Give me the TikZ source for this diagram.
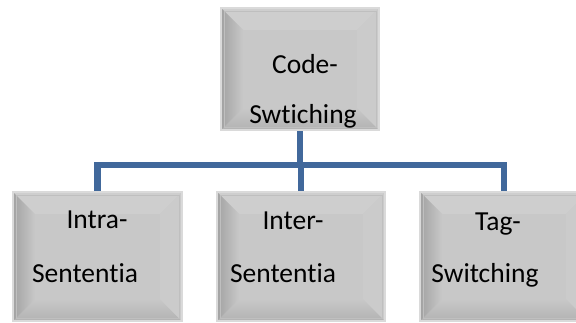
\documentclass[tikz,border=0pt]{standalone}
\usepackage{fontspec}
\setmainfont{Carlito}[Ligatures=CommonOff]
\usetikzlibrary{calc,positioning}
\definecolor{face}{HTML}{C8C8C8}
\definecolor{rim}{HTML}{DADADA}
\definecolor{bevdark}{HTML}{A2A2A2}
\definecolor{bevlow}{HTML}{B2B2B2}
\definecolor{bevhigh}{HTML}{CECECE}
\definecolor{linkblue}{HTML}{41689B}
\tikzset{
    bevelbox/.style={
    rectangle,fill=face,draw=rim,line width=2pt,inner sep=0pt,
    path picture={
      \coordinate (nw) at (path picture bounding box.north west);
      \coordinate (ne) at (path picture bounding box.north east);
      \coordinate (sw) at (path picture bounding box.south west);
      \coordinate (se) at (path picture bounding box.south east);
      \fill[bevhigh] (nw) -- ($(nw)+(22pt,-22pt)$) -- ($(ne)+(-22pt,-22pt)$) -- (ne) -- cycle;
      \shade[top color=face,bottom color=bevlow] (sw) -- ($(sw)+(22pt,22pt)$) -- ($(se)+(-22pt,22pt)$) -- (se) -- cycle;
      \fill[face!95!white] (ne) -- ($(ne)+(-22pt,-22pt)$) -- ($(se)+(-22pt,22pt)$) -- (se) -- cycle;
      \shade[left color=bevdark,right color=face] (nw) -- ($(nw)+(22pt,-22pt)$) -- ($(sw)+(22pt,22pt)$) -- (sw) -- cycle;
      \draw[gray!50,line width=0.8pt] ($(nw)+(3pt,-3pt)$) rectangle ($(se)+(-3pt,3pt)$);
    }
    },
    boxtext/.style={
    anchor=base,font=\fontsize{27.5}{32}\selectfont,inner sep=0pt
    },
    link/.style={
    draw=linkblue,line width=6.5pt,line join=miter
    },
}
\begin{document}
\begin{tikzpicture}[x=1pt,y=1pt]
   \useasboundingbox (0,0) rectangle (576,322);

   \node[bevelbox,minimum width=158pt,minimum height=122pt] (cs) at (300,253) {};
   \node[bevelbox,minimum width=169pt,minimum height=129pt] (intra) at (97.5,65.5) {};
   \node[bevelbox,minimum width=168pt,minimum height=129pt] (inter) at (301,65.5) {};
   \node[bevelbox,minimum width=168pt,minimum height=129pt] (tag) at (504,65.5) {};

   %labels
   \node[boxtext] (cs1) at (305,248) {Code-};
   \node[boxtext] (cs2) at (303,199) {Swtiching};
   \node[boxtext] (intra1) at (97,94) {Intra-};
   \node[boxtext] (intra2) at (85,40) {Sententia};
   \node[boxtext] (inter1) at (293,93) {Inter-};
   \node[boxtext] (inter2) at (283,40) {Sententia};
   \node[boxtext] (tag1) at (498,92) {Tag-};
   \node[boxtext] (tag2) at (485,40) {Switching};

   %tree
   \coordinate (hub) at (cs.south |- 0,157);
   \draw[link] (cs.south) -- (hub);
   \draw[link] (intra.north) |- (hub) -| (tag.north);
   \draw[link] (hub) -- (hub -| inter.north) -- (inter.north);
\end{tikzpicture}
\end{document}
